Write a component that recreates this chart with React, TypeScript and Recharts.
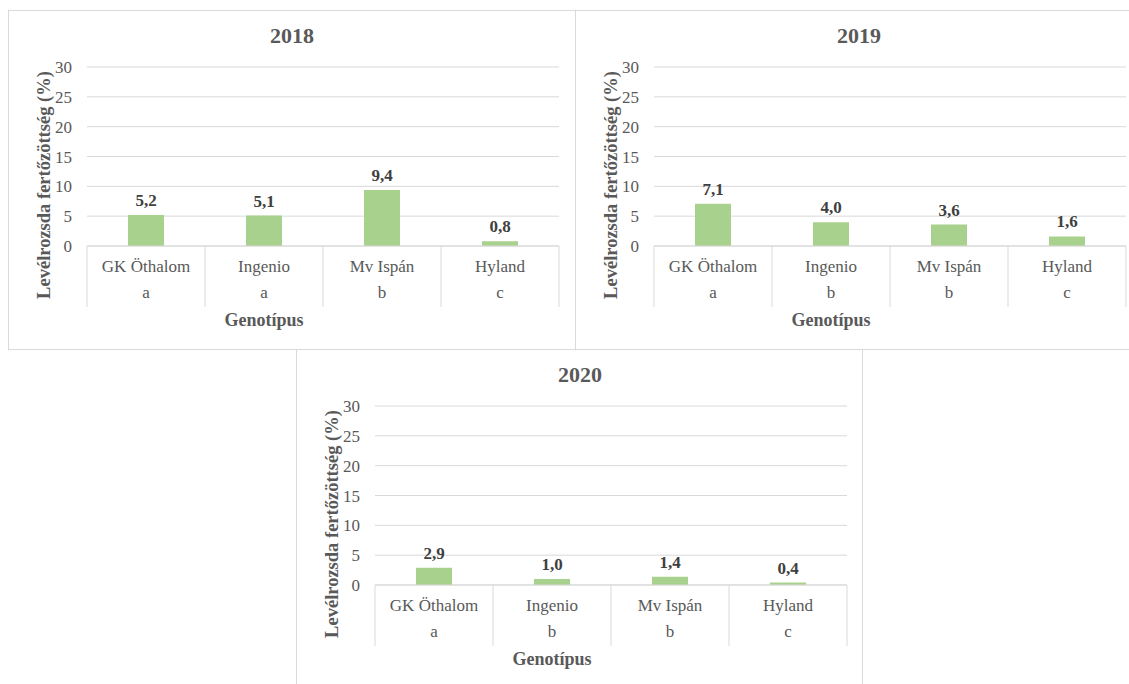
import { Bar, BarChart, CartesianGrid, LabelList, XAxis, YAxis } from "recharts";

const CATEGORIES = ["GK Öthalom", "Ingenio", "Mv Ispán", "Hyland"];
const YEARS = ["2018", "2019", "2020"];
const VALUES_2018 = [5.2, 5.1, 9.4, 0.8];
const VALUES_2019 = [7.1, 4.0, 3.6, 1.6];
const VALUES_2020 = [2.9, 1.0, 1.4, 0.4];
const LETTERS_2018 = ["a", "a", "b", "c"];
const LETTERS_2019 = ["a", "b", "b", "c"];
const LETTERS_2020 = ["a", "b", "b", "c"];
const Y_TICKS = [0, 5, 10, 15, 20, 25, 30];
const Y_TITLE = "Levélrozsda fertőzöttség (%)";
const X_TITLE = "Genotípus";

const FONT = "Liberation Serif, Times New Roman, DejaVu Serif, serif";
const GRID = "#d9d9d9";
const TEXT = "#595959";
const BAR = "#a9d18e";

const W = 566;
const H = 338;

function CategoryTick(props: any) {
  const { x, y, payload, index, letters } = props;
  const half = payload?.offset || 59;
  return (
    <g>
      <line x1={x - half} x2={x - half} y1={y} y2={y + 61} stroke={GRID} />
      {index === CATEGORIES.length - 1 && (
        <line x1={x + half} x2={x + half} y1={y} y2={y + 61} stroke={GRID} />
      )}
      <text x={x} y={y + 26} textAnchor="middle" fill={TEXT} style={{ fontSize: 17, fontFamily: FONT }}>
        {payload.value}
      </text>
      <text x={x} y={y + 52} textAnchor="middle" fill={TEXT} style={{ fontSize: 17, fontFamily: FONT }}>
        {letters[index]}
      </text>
    </g>
  );
}

function XTitle(props: any) {
  const vb = props.viewBox || { x: 78, y: 235 };
  return (
    <text
      x={vb.x + 177}
      y={vb.y + 80}
      textAnchor="middle"
      fill={TEXT}
      style={{ fontSize: 18, fontWeight: "bold", fontFamily: FONT }}
    >
      {X_TITLE}
    </text>
  );
}

function YTitle(props: any) {
  const vb = props.viewBox || { x: 38, y: 56, width: 40, height: 179 };
  const cx = vb.x + 3;
  const cy = vb.y + vb.height / 2 + 28.5;
  return (
    <text
      x={cx}
      y={cy}
      transform={`rotate(-90 ${cx} ${cy})`}
      textAnchor="middle"
      fill={TEXT}
      style={{ fontSize: 18.5, fontWeight: "bold", fontFamily: FONT }}
    >
      {Y_TITLE}
    </text>
  );
}

const fmt = (v: any) => Number(v).toFixed(1).replace(".", ",");

function Panel({
  title,
  values,
  letters,
  left,
  top,
  width,
}: {
  title: string;
  values: number[];
  letters: string[];
  left: number;
  top: number;
  width: number;
}) {
  const data = CATEGORIES.map((name, i) => ({ name, value: values[i] }));
  return (
    <div
      style={{
        position: "absolute",
        left,
        top,
        width,
        height: 340,
        boxSizing: "border-box",
        border: `1px solid ${GRID}`,
        background: "#fff",
        overflow: "hidden",
        fontFamily: FONT,
      }}
    >
      <div
        style={{
          position: "absolute",
          left: 0,
          top: 14,
          width: W,
          textAlign: "center",
          fontWeight: "bold",
          fontSize: 22,
          lineHeight: "22px",
          color: TEXT,
        }}
      >
        {title}
      </div>
      <BarChart
        width={W}
        height={H}
        data={data}
        margin={{ top: 56, right: 16, left: 38, bottom: 18 }}
        style={{ fontFamily: FONT }}
      >
        <CartesianGrid vertical={false} stroke={GRID} />
        <XAxis
          dataKey="name"
          height={85}
          tickSize={0}
          tickMargin={0}
          axisLine={{ stroke: GRID }}
          interval={0}
          tick={(p: any) => <CategoryTick {...p} letters={letters} />}
          label={<XTitle />}
        />
        <YAxis
          width={40}
          domain={[0, 30]}
          ticks={Y_TICKS}
          tickSize={0}
          tickMargin={15}
          axisLine={false}
          tick={{ fill: TEXT, fontSize: 17, fontFamily: FONT, style: { fontFamily: FONT } }}
          label={<YTitle />}
        />
        <Bar dataKey="value" fill={BAR} barSize={36} isAnimationActive={false}>
          <LabelList
            dataKey="value"
            position="top"
            offset={9}
            formatter={fmt}
            fill="#404040"
            fontSize={17}
            fontWeight="bold"
            fontFamily={FONT}
            style={{ fontFamily: FONT }}
          />
        </Bar>
      </BarChart>
    </div>
  );
}

export default function App() {
  return (
    <div style={{ position: "absolute", left: 0, top: 0, width: 1129, height: 684, background: "#fff", overflow: "hidden" }}>
      <Panel title={YEARS[0]} values={VALUES_2018} letters={LETTERS_2018} left={8} top={10} width={568} />
      <Panel title={YEARS[1]} values={VALUES_2019} letters={LETTERS_2019} left={575} top={10} width={560} />
      <Panel title={YEARS[2]} values={VALUES_2020} letters={LETTERS_2020} left={296} top={349} width={567} />
    </div>
  );
}
